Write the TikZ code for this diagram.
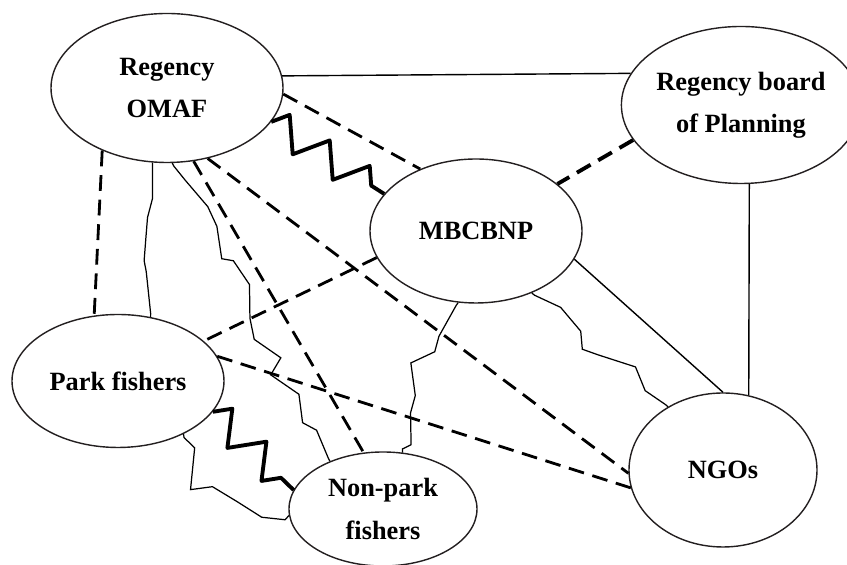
\documentclass[tikz,border=0pt]{standalone}
\usepackage{fontspec}
\setmainfont{Liberation Serif}
\usepackage{xcolor}
\usepackage{tikz}
\definecolor{Outline}{RGB}{35, 31, 32}
\tikzstyle{actor} = [ellipse, draw=Outline, thick, inner sep=0pt, align=center, font=\bfseries\fontsize{15}{24}\selectfont]
\tikzstyle{strong} = [line width=0.8pt]
\tikzstyle{weak} = [line width=1.6pt, dash pattern=on 9pt off 5pt]
\tikzstyle{conflict} = [line width=2.2pt, line join=round, decorate, decoration={zigzag, segment length=27pt, amplitude=9pt}]
\tikzstyle{friction} = [line width=0.7pt, decorate, decoration={random steps, segment length=13pt, amplitude=8pt, pre length=2pt, post length=2pt}]
\usetikzlibrary{shapes.geometric,decorations.pathmorphing}

\begin{document}
\begin{tikzpicture}
\pgfmathsetseed{11}
\useasboundingbox (0,0) rectangle (16.94,11.3);

% Acteurs
\node (omaf) [actor, minimum width=4.64cm, minimum height=2.98cm] at (3.34,9.54) {Regency\\OMAF};
\node (plan) [actor, minimum width=4.24cm, minimum height=3.14cm] at (14.82,9.2) {Regency board\\of Planning};
\node (mbc) [actor, minimum width=4.24cm, minimum height=2.88cm] at (9.52,6.68) {MBCBNP};
\node (park) [actor, minimum width=4.24cm, minimum height=2.66cm] at (2.36,3.68) {Park fishers};
\node (npark) [actor, minimum width=3.76cm, minimum height=2.28cm] at (7.66,1.12) {Non-park\\fishers};
\node (ngo) [actor, minimum width=3.76cm, minimum height=3.08cm] at (14.46,1.9) {NGOs};

% Liens forts
\draw [strong] (omaf.6) -- (plan.164);
\draw [strong] (plan.-84) -- (ngo.71);
\draw [strong] (mbc.-16) -- (ngo.north);

% Liens faibles
\draw [weak] (omaf.-3) -- (mbc.132);
\draw [weak, line width=2.2pt] (plan.-162) -- (mbc.30);
\draw [weak] (omaf.-136) -- (park.110);
\draw [weak] (omaf.-70) -- (npark.109);
\draw [weak] (omaf.-60) -- (ngo.182);
\draw [weak] (mbc.195) -- (park.25);
\draw [weak] (park.14) -- (ngo.191);

% Conflits
\draw [conflict] (omaf.-18) -- (mbc.158);
\draw [conflict] (park.-18) -- (npark.168);

% Tensions
\draw [friction] (omaf.-101) -- (park.63);
\draw [friction] (omaf.-86) -- (npark.138);
\draw [friction] (park.-39) to[bend right=45] (npark.184);
\draw [friction] (mbc.-48) -- (ngo.131);
\draw [friction] (mbc.-104) to[bend right=15] (npark.71);

\end{tikzpicture}
\end{document}
